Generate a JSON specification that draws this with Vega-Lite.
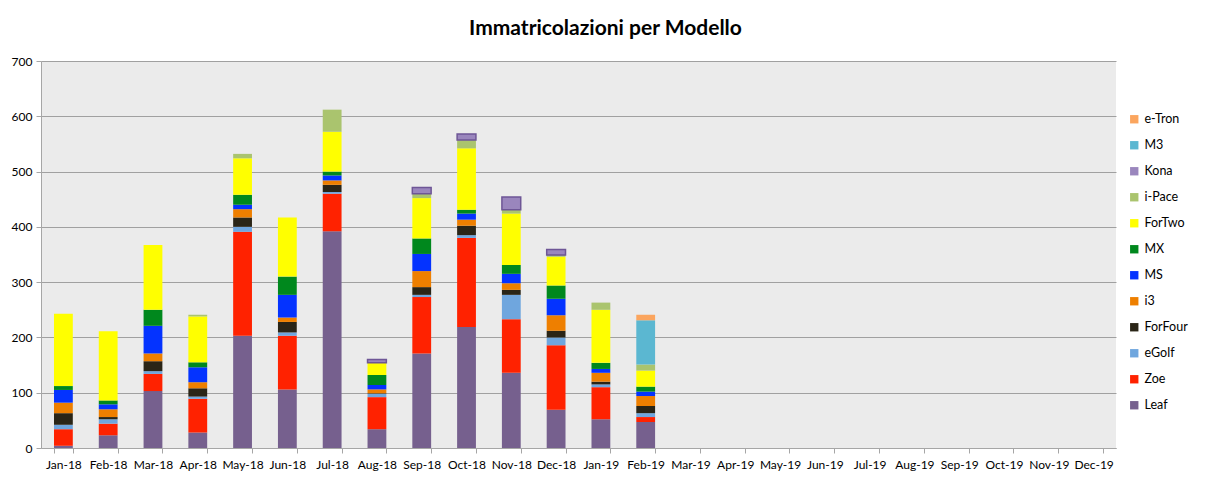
{
  "$schema": "https://vega.github.io/schema/vega-lite/v6.json",
  "autosize": "none",
  "width": 1075,
  "height": 387,
  "padding": {"left": 41, "top": 61, "right": 95, "bottom": 34},
  "background": "white",
  "title": {
    "text": "Immatricolazioni per Modello",
    "font": "Lato",
    "fontSize": 21,
    "fontWeight": "bold",
    "color": "#000000",
    "anchor": "middle",
    "dx": 27,
    "offset": 16
  },
  "config": {
    "view": {"fill": "#EBEBEB", "stroke": null},
    "font": "Lato",
    "axis": {
      "labelFont": "Lato",
      "labelFontSize": 12,
      "labelColor": "#000000",
      "domainColor": "#A6A6A6",
      "tickColor": "#A6A6A6",
      "gridColor": "#A0A0A0",
      "gridOpacity": 1,
      "title": null
    },
    "legend": {"labelFont": "Lato", "labelFontSize": 12.5, "labelColor": "#000000"}
  },
  "datasets": {
    "ranks": [
      {"model": "Leaf", "rank": 1},
      {"model": "Zoe", "rank": 2},
      {"model": "eGolf", "rank": 3},
      {"model": "ForFour", "rank": 4},
      {"model": "i3", "rank": 5},
      {"model": "MS", "rank": 6},
      {"model": "MX", "rank": 7},
      {"model": "ForTwo", "rank": 8},
      {"model": "i-Pace", "rank": 9},
      {"model": "Kona", "rank": 10},
      {"model": "M3", "rank": 11},
      {"model": "e-Tron", "rank": 12}
    ]
  },
  "data": {
    "values": [
      {"month": "Jan-18", "model": "Leaf", "n": 4},
      {"month": "Jan-18", "model": "Zoe", "n": 30},
      {"month": "Jan-18", "model": "eGolf", "n": 8},
      {"month": "Jan-18", "model": "ForFour", "n": 21},
      {"month": "Jan-18", "model": "i3", "n": 19},
      {"month": "Jan-18", "model": "MS", "n": 23},
      {"month": "Jan-18", "model": "MX", "n": 7},
      {"month": "Jan-18", "model": "ForTwo", "n": 131},

      {"month": "Feb-18", "model": "Leaf", "n": 23},
      {"month": "Feb-18", "model": "Zoe", "n": 21},
      {"month": "Feb-18", "model": "eGolf", "n": 8},
      {"month": "Feb-18", "model": "ForFour", "n": 4},
      {"month": "Feb-18", "model": "i3", "n": 14},
      {"month": "Feb-18", "model": "MS", "n": 9},
      {"month": "Feb-18", "model": "MX", "n": 7},
      {"month": "Feb-18", "model": "ForTwo", "n": 125},

      {"month": "Mar-18", "model": "Leaf", "n": 103},
      {"month": "Mar-18", "model": "Zoe", "n": 31},
      {"month": "Mar-18", "model": "eGolf", "n": 5},
      {"month": "Mar-18", "model": "ForFour", "n": 18},
      {"month": "Mar-18", "model": "i3", "n": 14},
      {"month": "Mar-18", "model": "MS", "n": 50},
      {"month": "Mar-18", "model": "MX", "n": 29},
      {"month": "Mar-18", "model": "ForTwo", "n": 117},

      {"month": "Apr-18", "model": "Leaf", "n": 28},
      {"month": "Apr-18", "model": "Zoe", "n": 61},
      {"month": "Apr-18", "model": "eGolf", "n": 4},
      {"month": "Apr-18", "model": "ForFour", "n": 15},
      {"month": "Apr-18", "model": "i3", "n": 11},
      {"month": "Apr-18", "model": "MS", "n": 27},
      {"month": "Apr-18", "model": "MX", "n": 9},
      {"month": "Apr-18", "model": "ForTwo", "n": 83},
      {"month": "Apr-18", "model": "i-Pace", "n": 3},

      {"month": "May-18", "model": "Leaf", "n": 203},
      {"month": "May-18", "model": "Zoe", "n": 188},
      {"month": "May-18", "model": "eGolf", "n": 9},
      {"month": "May-18", "model": "ForFour", "n": 17},
      {"month": "May-18", "model": "i3", "n": 15},
      {"month": "May-18", "model": "MS", "n": 8},
      {"month": "May-18", "model": "MX", "n": 18},
      {"month": "May-18", "model": "ForTwo", "n": 66},
      {"month": "May-18", "model": "i-Pace", "n": 8},

      {"month": "Jun-18", "model": "Leaf", "n": 106},
      {"month": "Jun-18", "model": "Zoe", "n": 97},
      {"month": "Jun-18", "model": "eGolf", "n": 6},
      {"month": "Jun-18", "model": "ForFour", "n": 19},
      {"month": "Jun-18", "model": "i3", "n": 8},
      {"month": "Jun-18", "model": "MS", "n": 41},
      {"month": "Jun-18", "model": "MX", "n": 33},
      {"month": "Jun-18", "model": "ForTwo", "n": 107},

      {"month": "Jul-18", "model": "Leaf", "n": 392},
      {"month": "Jul-18", "model": "Zoe", "n": 68},
      {"month": "Jul-18", "model": "eGolf", "n": 3},
      {"month": "Jul-18", "model": "ForFour", "n": 13},
      {"month": "Jul-18", "model": "i3", "n": 8},
      {"month": "Jul-18", "model": "MS", "n": 9},
      {"month": "Jul-18", "model": "MX", "n": 7},
      {"month": "Jul-18", "model": "ForTwo", "n": 72},
      {"month": "Jul-18", "model": "i-Pace", "n": 40},

      {"month": "Aug-18", "model": "Leaf", "n": 34},
      {"month": "Aug-18", "model": "Zoe", "n": 58},
      {"month": "Aug-18", "model": "eGolf", "n": 6},
      {"month": "Aug-18", "model": "ForFour", "n": 1},
      {"month": "Aug-18", "model": "i3", "n": 7},
      {"month": "Aug-18", "model": "MS", "n": 8},
      {"month": "Aug-18", "model": "MX", "n": 18},
      {"month": "Aug-18", "model": "ForTwo", "n": 22},
      {"month": "Aug-18", "model": "Kona", "n": 6},

      {"month": "Sep-18", "model": "Leaf", "n": 171},
      {"month": "Sep-18", "model": "Zoe", "n": 102},
      {"month": "Sep-18", "model": "eGolf", "n": 4},
      {"month": "Sep-18", "model": "ForFour", "n": 14},
      {"month": "Sep-18", "model": "i3", "n": 29},
      {"month": "Sep-18", "model": "MS", "n": 31},
      {"month": "Sep-18", "model": "MX", "n": 28},
      {"month": "Sep-18", "model": "ForTwo", "n": 73},
      {"month": "Sep-18", "model": "i-Pace", "n": 8},
      {"month": "Sep-18", "model": "Kona", "n": 11},

      {"month": "Oct-18", "model": "Leaf", "n": 219},
      {"month": "Oct-18", "model": "Zoe", "n": 161},
      {"month": "Oct-18", "model": "eGolf", "n": 5},
      {"month": "Oct-18", "model": "ForFour", "n": 17},
      {"month": "Oct-18", "model": "i3", "n": 11},
      {"month": "Oct-18", "model": "MS", "n": 11},
      {"month": "Oct-18", "model": "MX", "n": 7},
      {"month": "Oct-18", "model": "ForTwo", "n": 111},
      {"month": "Oct-18", "model": "i-Pace", "n": 15},
      {"month": "Oct-18", "model": "Kona", "n": 11},

      {"month": "Nov-18", "model": "Leaf", "n": 136},
      {"month": "Nov-18", "model": "Zoe", "n": 97},
      {"month": "Nov-18", "model": "eGolf", "n": 44},
      {"month": "Nov-18", "model": "ForFour", "n": 9},
      {"month": "Nov-18", "model": "i3", "n": 12},
      {"month": "Nov-18", "model": "MS", "n": 17},
      {"month": "Nov-18", "model": "MX", "n": 16},
      {"month": "Nov-18", "model": "ForTwo", "n": 93},
      {"month": "Nov-18", "model": "i-Pace", "n": 7},
      {"month": "Nov-18", "model": "Kona", "n": 23},

      {"month": "Dec-18", "model": "Leaf", "n": 69},
      {"month": "Dec-18", "model": "Zoe", "n": 117},
      {"month": "Dec-18", "model": "eGolf", "n": 14},
      {"month": "Dec-18", "model": "ForFour", "n": 12},
      {"month": "Dec-18", "model": "i3", "n": 28},
      {"month": "Dec-18", "model": "MS", "n": 30},
      {"month": "Dec-18", "model": "MX", "n": 24},
      {"month": "Dec-18", "model": "ForTwo", "n": 52},
      {"month": "Dec-18", "model": "i-Pace", "n": 3},
      {"month": "Dec-18", "model": "Kona", "n": 10},

      {"month": "Jan-19", "model": "Leaf", "n": 52},
      {"month": "Jan-19", "model": "Zoe", "n": 58},
      {"month": "Jan-19", "model": "eGolf", "n": 5},
      {"month": "Jan-19", "model": "ForFour", "n": 5},
      {"month": "Jan-19", "model": "i3", "n": 16},
      {"month": "Jan-19", "model": "MS", "n": 7},
      {"month": "Jan-19", "model": "MX", "n": 11},
      {"month": "Jan-19", "model": "ForTwo", "n": 96},
      {"month": "Jan-19", "model": "i-Pace", "n": 13},

      {"month": "Feb-19", "model": "Leaf", "n": 47},
      {"month": "Feb-19", "model": "Zoe", "n": 9},
      {"month": "Feb-19", "model": "eGolf", "n": 7},
      {"month": "Feb-19", "model": "ForFour", "n": 13},
      {"month": "Feb-19", "model": "i3", "n": 18},
      {"month": "Feb-19", "model": "MS", "n": 8},
      {"month": "Feb-19", "model": "MX", "n": 9},
      {"month": "Feb-19", "model": "ForTwo", "n": 29},
      {"month": "Feb-19", "model": "i-Pace", "n": 11},
      {"month": "Feb-19", "model": "M3", "n": 80},
      {"month": "Feb-19", "model": "e-Tron", "n": 10}
    ]
  },
  "transform": [
    {"lookup": "model", "from": {"data": {"name": "ranks"}, "key": "model", "fields": ["rank"]}}
  ],
  "mark": {"type": "bar"},
  "encoding": {
    "x": {
      "field": "month",
      "type": "ordinal",
      "scale": {
        "domain": ["Jan-18","Feb-18","Mar-18","Apr-18","May-18","Jun-18","Jul-18","Aug-18","Sep-18","Oct-18","Nov-18","Dec-18","Jan-19","Feb-19","Mar-19","Apr-19","May-19","Jun-19","Jul-19","Aug-19","Sep-19","Oct-19","Nov-19","Dec-19"],
        "paddingInner": 0.58,
        "paddingOuter": 0.29
      },
      "axis": {
        "labelAngle": 0,
        "tickBand": "extent",
        "tickSize": 5,
        "labelPadding": 6,
        "grid": false
      }
    },
    "y": {
      "field": "n",
      "type": "quantitative",
      "stack": "zero",
      "scale": {"domain": [0, 700]},
      "axis": {
        "values": [0, 100, 200, 300, 400, 500, 600, 700],
        "tickSize": 5,
        "labelPadding": 4,
        "grid": true
      }
    },
    "order": {"field": "rank", "type": "quantitative", "sort": "ascending"},
    "color": {
      "field": "model",
      "type": "nominal",
      "scale": {
        "domain": ["e-Tron","M3","Kona","i-Pace","ForTwo","MX","MS","i3","ForFour","eGolf","Zoe","Leaf"],
        "range": ["#FBA55E","#5BB7D1","#9A86BD","#AAC46E","#FFFF00","#00881D","#0433FF","#EE7F00","#2A2517","#6FA6DE","#FF2200","#76608E"]
      },
      "legend": {
        "title": null,
        "orient": "none",
        "legendX": 1087,
        "legendY": 52,
        "symbolType": "square",
        "symbolSize": 70,
        "symbolStrokeWidth": 0,
        "rowPadding": 13,
        "labelOffset": 4
      }
    },
    "stroke": {
      "condition": {"test": "datum.model === 'Kona'", "value": "#6E5696"},
      "value": null
    },
    "strokeWidth": {
      "condition": {"test": "datum.model === 'Kona'", "value": 1.5},
      "value": 0
    }
  }
}
